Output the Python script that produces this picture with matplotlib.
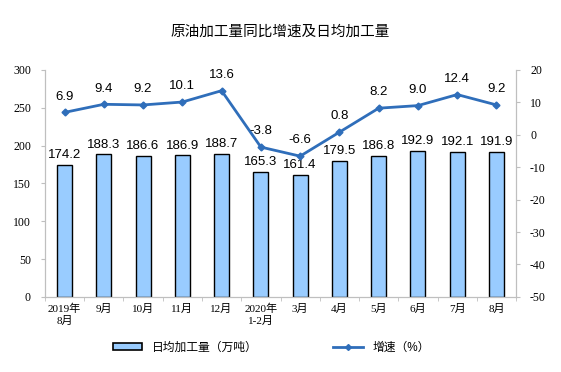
import numpy as np
import matplotlib
matplotlib.use("Agg")
import matplotlib.pyplot as plt
from matplotlib.lines import Line2D
from matplotlib.patches import Patch

plt.rcParams['font.family'] = ['Liberation Sans', 'Noto Sans CJK SC', 'DejaVu Sans']
plt.rcParams['axes.unicode_minus'] = False
serif = ['Liberation Serif', 'Noto Sans CJK SC', 'DejaVu Sans']

months = ["2019年\n8月", "9月", "10月", "11月", "12月", "2020年\n1-2月",
          "3月", "4月", "5月", "6月", "7月", "8月"]
daily_output = [174.2, 188.3, 186.6, 186.9, 188.7, 165.3, 161.4, 179.5, 186.8, 192.9, 192.1, 191.9]
growth = [6.9, 9.4, 9.2, 10.1, 13.6, -3.8, -6.6, 0.8, 8.2, 9.0, 12.4, 9.2]

bar_color = "#99CCFF"
line_color = "#2F6EBA"
spine_color = "#BFBFBF"

fig = plt.figure(figsize=(5.61, 3.72), dpi=100)
ax1 = fig.add_axes([0.080, 0.202, 0.840, 0.610])
ax2 = ax1.twinx()

x = np.arange(len(months))
ax1.bar(x, daily_output, width=0.38, color=bar_color, edgecolor="black", linewidth=1.0, zorder=2)
for xi, v in zip(x, daily_output):
    ax1.text(xi, v + 5, f"{v:.1f}", ha="center", va="bottom", fontsize=9.5)

ax1.set_xlim(-0.5, len(months) - 0.5)
ax1.set_ylim(0, 300)
ax1.set_yticks(np.arange(0, 301, 50))
ax1.set_xticks(x)
ax1.set_xticklabels(months, fontsize=8, family=serif)
ax1.set_xticks(np.arange(-0.5, len(months), 1), minor=True)
ax1.tick_params(axis="x", which="major", length=0, pad=5)
ax1.tick_params(axis="x", which="minor", length=3, color=spine_color)
ax1.tick_params(axis="y", labelsize=8.5, length=3, color=spine_color, pad=7)
for lbl in ax1.get_yticklabels():
    lbl.set_family(serif)

ax2.plot(x, growth, color=line_color, linewidth=2, marker="D", markersize=3.5, zorder=3)
for xi, v in zip(x, growth):
    ax2.text(xi, v + 3, f"{v:.1f}", ha="center", va="bottom", fontsize=9.5)
ax2.set_ylim(-50, 20)
ax2.set_yticks(np.arange(-50, 21, 10))
ax2.tick_params(axis="y", labelsize=8.5, length=3, color=spine_color, pad=7)
for lbl in ax2.get_yticklabels():
    lbl.set_family(serif)

for ax in (ax1, ax2):
    ax.spines["top"].set_visible(False)
    for s in ("left", "right", "bottom"):
        ax.spines[s].set_color(spine_color)

fig.text(0.5, 0.915, "原油加工量同比增速及日均加工量", ha="center", va="center", fontsize=10.5)

handles1 = [Patch(facecolor=bar_color, edgecolor="black", linewidth=1.2)]
fig.legend(handles1, ["日均加工量（万吨）"], loc="center", bbox_to_anchor=(0.33, 0.065),
           frameon=False, fontsize=8.5, handlelength=2.5, handleheight=0.6)
handles2 = [Line2D([0], [0], color=line_color, linewidth=2, marker="D", markersize=3)]
fig.legend(handles2, ["增速（%）"], loc="center", bbox_to_anchor=(0.68, 0.065),
           frameon=False, fontsize=8.5, handlelength=2.5)

fig.savefig("out.png", dpi=100)
